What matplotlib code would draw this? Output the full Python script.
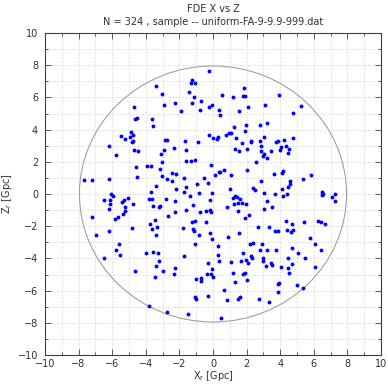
import matplotlib
matplotlib.use("Agg")
import matplotlib.pyplot as plt
from matplotlib.patches import Circle
from matplotlib.ticker import MultipleLocator

title_lines = ["FDE X vs Z", "N = 324 , sample -- uniform-FA-9-9.9-999.dat"]
x_label = r"X$_{\mathregular{r}}$ [Gpc]"
z_label = r"Z$_{\mathregular{r}}$ [Gpc]"
axis_limits = [-10, 10]
circle_radius = 7.95

x_r = [
    -3.41, -4.68, -4.62, -4.52, -3.63, -3.59, -4.88, -4.76, -5.48, -5.24, -4.94, -4.74, -4.82, -6.21, -4.68, -4.48, -5.77,
    -0.26, -1.27, -1.29, -1.09, -3.02, -1.41, -1.13, 0.56, 1.83, 1.21, 1.81, 1.89, -2.90, -2.24, -1.27, -0.71, -1.90, -0.79,
    -0.26, -0.08, 0.36, 0.44, 1.53, 2.07, 1.27, 1.98, 1.90, -2.88, -2.72, -1.65, -0.22, -0.91, 0.02, 0.26, 0.32, 0.79, 0.93,
    1.07, 1.39, 1.74, 2.28, 2.28, -2.34, -2.93, -1.63, 1.31, 1.53, 2.04, -3.08,
    3.95, 3.08, 5.22, 4.74, 3.21, 2.82, 3.05, 2.82, 3.73, 3.89, 4.23, 4.74, 2.86, 2.88, 3.05, 2.99, 3.21, 3.45, 4.07, 4.33,
    3.97, 4.52, 4.48,
    -4.60, -3.95, -3.67, -3.17, -4.54, -7.66, -7.22, -6.21, -3.37, -3.69, -6.09, -5.95, -6.47, -6.11, -5.28, -5.04, -5.42,
    -4.74, -3.79, -3.65, -6.11, -6.21, -5.24, -5.26, -3.59, -3.20, -3.15, -7.18, -5.67, -5.85, -5.36, -3.75, -3.45, -3.65,
    -3.35, -4.80, -6.19, -6.96, -3.37, -5.58, -5.79,
    -1.59, -1.29, -1.05, -3.05, -0.12, 2.58, -2.46, -2.22, -2.72, -2.46, -1.74, 0.14, 0.36, 0.44, 0.67, 1.09, 2.04, -0.54,
    -0.28, -0.97, -1.59, -2.20, -1.71, -3.05, -0.82, -0.08, 0.99, 2.40, 2.48, -1.35, -2.78, -2.28, 1.31, 1.41, 1.19, 1.63,
    1.23, 1.49, 1.74, 1.98, -1.21, -0.16, -1.59, -0.76, -0.44, -0.18, -0.10, -2.24, -2.70, 0.81, 1.47, 2.14, 1.92, -1.07,
    -1.25, -0.44, 2.68, -1.77, -1.19, -1.15, -0.82, -0.16, 0.91, 1.57, -0.08, -1.07, 0.32, 2.38, 2.22,
    3.63, 4.13, 4.19, 5.85, 5.38, 2.86, 4.58, 4.60, 4.44, 4.09, 3.04, 3.67, 4.19, 4.42, 6.51, 6.57, 6.49, 7.24, 7.08, 7.24,
    3.21, 3.49, 3.02, 4.35, 4.68, 5.42, 6.27, 6.41, 6.69, 3.35, 3.67, 3.85, 4.42, 4.74, 4.62, 5.77, 6.05, 2.94, 2.82, 3.20,
    3.75, 4.70, 6.45,
    -6.51, -5.54, -3.97, -3.55, -3.29, -3.21, -3.41, -4.66, -3.45, -3.83,
    -1.74, 0.30, 1.80, 1.95, 2.26, 2.34, 2.06, 1.67, 1.05, 0.36, -0.30, -0.06, -2.99, -2.28, -2.34, -0.99, -0.73, -0.70,
    -0.34, -0.14, 0.02, 1.19, 1.79, 1.90, 2.04, 1.29, 0.67, -1.07, -1.03, -0.32, 0.82, 1.47, 1.63, 2.74, -2.72, -1.51, 0.48,
    2.96, 2.99, 3.15, 3.43, 3.53, 4.03, 4.46, 5.08, 5.49, 4.72, 4.46, 4.51, 6.05, 4.98, 3.93, 3.85, 3.85, 5.34, 3.35,
]
z_r = [
    6.69, 5.40, 4.63, 4.72, 4.67, 4.21, 3.88, 3.69, 3.61, 3.43, 3.55, 3.30, 3.26, 2.97, 2.74, 2.66, 2.45,
    7.66, 7.10, 6.90, 6.90, 6.21, 6.31, 6.00, 6.15, 6.56, 6.00, 6.06, 6.11, 5.55, 5.65, 5.65, 5.78, 5.17, 5.23,
    5.40, 5.55, 5.23, 4.92, 5.17, 5.42, 4.19, 4.28, 3.93, 3.36, 3.36, 3.28, 3.66, 3.20, 3.49, 3.43, 3.51, 3.66, 3.76,
    3.76, 3.47, 3.16, 3.28, 3.20, 2.88, 2.74, 2.72, 2.80, 2.66, 2.78, 2.47,
    6.17, 5.53, 5.46, 5.05, 4.40, 4.28, 3.55, 3.32, 3.24, 3.28, 3.38, 3.49, 3.01, 2.66, 2.47, 2.35, 2.22, 2.64, 2.93, 2.99,
    2.72, 2.82, 2.57,
    1.68, 1.72, 1.72, 1.54, 1.08, 0.87, 0.87, 0.95, 0.50, 0.10, -0.02, -0.10, -0.35, -0.35, -0.35, -0.23, -0.52,
    -0.64, -0.29, -0.29, -0.64, -0.95, -0.81, -1.04, -0.73, -0.83, -0.73, -1.45, -1.41, -1.54, -1.27, -1.89, -1.62, -2.20,
    -2.06, -2.10, -2.31, -2.57, -2.57, -3.10, -3.45,
    2.06, 2.06, 2.12, 1.99, 1.81, 1.97, 1.29, 1.25, 0.93, 0.83, 1.02, 1.18, 1.39, 1.35, 1.50, 1.18, 1.47, 1.02,
    0.66, 0.62, 0.46, 0.31, 0.14, 1.12, 0.04, 0.08, 0.31, 0.35, 0.27, -0.14, -0.29, -0.45, -0.12, -0.17, -0.25, -0.31,
    -0.60, -0.58, -0.56, -0.60, -0.67, -0.35, -1.02, -1.10, -1.08, -0.98, -1.12, -1.12, -1.35, -0.83, -1.08, -1.33, -1.51, -1.66,
    -1.74, -1.72, -2.04, -2.14, -2.20, -2.32, -2.55, -2.41, -2.66, -2.41, -2.80, -3.10, -3.24, -3.07, -3.13,
    1.23, 1.33, 1.43, 1.18, 0.91, 0.83, 0.81, 0.64, 0.46, 0.31, 0.04, 0.00, -0.12, -0.02, 0.10, 0.02, -0.08, 0.00, -0.21, -0.42,
    -0.45, -0.83, -0.93, -1.66, -1.85, -1.76, -1.70, -1.76, -1.87, -2.06, -2.32, -2.31, -2.26, -2.26, -2.37, -2.74, -3.10, -3.10, -3.45, -3.45,
    -3.45, -3.35, -3.45,
    -3.95, -3.78, -3.64, -3.59, -3.64, -4.15, -4.46, -4.76, -5.15, -6.96,
    -3.88, -3.78, -3.66, -4.07, -3.86, -3.95, -4.26, -4.17, -4.22, -4.17, -4.30, -4.67, -4.76, -4.57, -4.94, -5.30, -5.38, -5.21,
    -4.97, -4.94, -5.13, -4.90, -4.94, -4.88, -5.34, -5.44, -5.94, -6.37, -6.52, -6.31, -6.58, -6.54, -6.40, -6.54, -7.33, -7.43, -7.71,
    -3.95, -4.17, -4.46, -4.30, -4.38, -4.51, -3.99, -3.68, -3.99, -4.32, -4.61, -4.88, -4.55, -5.65, -5.50, -5.61, -6.06, -5.81, -6.69,
]

plt.rcParams["font.family"] = ["DejaVu Sans"]
plt.rcParams["mathtext.default"] = "regular"

fig = plt.figure(figsize=(3.88, 3.86), dpi=100)
ax = fig.add_axes([45 / 388, 31 / 386, 336 / 388, 322 / 386])

ax.set_xlim(axis_limits)
ax.set_ylim(axis_limits)
ax.xaxis.set_major_locator(MultipleLocator(2))
ax.yaxis.set_major_locator(MultipleLocator(2))
ax.xaxis.set_minor_locator(MultipleLocator(1))
ax.yaxis.set_minor_locator(MultipleLocator(1))
ax.grid(True, which="both", color="#c4c4c4", linestyle=(0, (1, 2)), linewidth=0.6)
ax.set_axisbelow(True)

ax.tick_params(which="both", direction="in", top=True, right=True, color="#404040",
               labelsize=7, labelcolor="#303030", width=0.6)
ax.tick_params(which="major", length=4)
ax.tick_params(axis="x", which="major", pad=3)
ax.tick_params(axis="y", which="major", pad=5)
ax.tick_params(which="minor", length=2.5)
for s in ax.spines.values():
    s.set_color("#404040")
    s.set_linewidth(0.8)

ax.add_patch(Circle((0, 0), circle_radius, fill=False, edgecolor="#a0a0a0", linewidth=0.8, zorder=2))
ax.plot(x_r, z_r, linestyle="none", marker="o", markersize=2.8, color="#0000ff",
        markeredgewidth=0, zorder=3)

ax.set_xlabel(x_label, fontsize=7, color="#303030", labelpad=0)
ax.set_ylabel(z_label, fontsize=7, color="#303030", labelpad=3)
ax.set_title("\n".join(title_lines), fontsize=7, color="#303030", pad=6, linespacing=1.3)

fig.savefig("out.png", dpi=100)
